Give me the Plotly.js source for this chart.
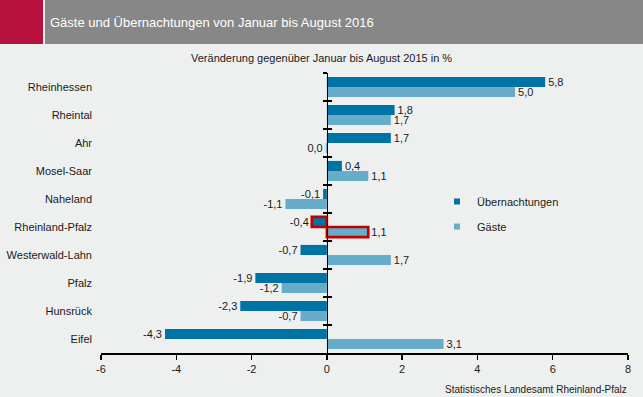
<!DOCTYPE html>
<html>
<head>
<meta charset="utf-8">
<script src="https://cdn.plot.ly/plotly-3.0.1.min.js"></script>
<style>
html,body{margin:0;padding:0;background:#eef0ef;}
#chart{width:643px;height:397px;}
</style>
</head>
<body>
<div id="chart"></div>
<script>
var categories = ["Rheinhessen", "Rheintal", "Ahr", "Mosel-Saar", "Naheland", "Rheinland-Pfalz", "Westerwald-Lahn", "Pfalz", "Hunsrück", "Eifel"];
var uebernachtungen = [5.8, 1.8, 1.7, 0.4, -0.1, -0.4, -0.7, -1.9, -2.3, -4.3];
var gaeste = [5.0, 1.7, -0.03, 1.1, -1.1, 1.1, 1.7, -1.2, -0.7, 3.1];
var xTicks = [-6, -4, -2, 0, 2, 4, 6, 8];
var highlight = "Rheinland-Pfalz";

var colDark = "#0073a5", colLight = "#67acc9", colRed = "#c00000";

function fmt(v){ var s = (Math.abs(v) < 0.05 ? 0 : v).toFixed(1); return s.replace(".", ","); }
var lineW = categories.map(function(c){ return c === highlight ? 2.6 : 0; });

var FONT = "Liberation Sans, Arial, sans-serif";

// pixel helpers (plot area: x 101..628, y 73..353)
function px(x){ return (x - 101) / 527; }
function py(y){ return (353 - y) / 280; }

var catRange = [categories.length - 0.5, -0.5];

var barCommon = {
  type: "bar", orientation: "h", y: categories,
  textposition: "outside", cliponaxis: false, constraintext: "none",
  outsidetextfont: {family: FONT, size: 11, color: "#1a1a1a"},
  showlegend: false, hoverinfo: "x+y"
};

var traces = [
  Object.assign({}, barCommon, {
    name: "Übernachtungen", x: uebernachtungen, text: uebernachtungen.map(fmt),
    marker: {color: colDark, line: {color: colRed, width: lineW}}
  }),
  Object.assign({}, barCommon, {
    name: "Gäste", x: gaeste, text: gaeste.map(fmt),
    marker: {color: colLight, line: {color: colRed, width: lineW}}
  }),
  {type: "scatter", mode: "markers", x: [null], y: [categories[0]], name: "Übernachtungen",
   marker: {symbol: "square", size: 6, color: colDark}, legendgroup: "a", hoverinfo: "skip"},
  {type: "scatter", mode: "markers", x: [null], y: [categories[0]], name: "Gäste",
   marker: {symbol: "square", size: 6, color: colLight}, legendgroup: "b", hoverinfo: "skip"},
  {type: "scatter", mode: "none", x: categories.map(function(){return null;}), y: categories,
   yaxis: "y2", showlegend: false, hoverinfo: "skip"},
  {type: "scatter", mode: "none", x: categories.map(function(){return null;}), y: categories,
   yaxis: "y3", showlegend: false, hoverinfo: "skip"}
];

var zeroAxis = {
  type: "category", categoryarray: categories, categoryorder: "array",
  range: catRange, autorange: false, overlaying: "y", anchor: "free", position: 6/14,
  showline: true, linecolor: "#000", linewidth: 1.5,
  ticklen: 4, tickwidth: 1.5, tickcolor: "#000", tickson: "boundaries",
  showticklabels: false, showgrid: false, zeroline: false
};

var layout = {
  width: 643, height: 397,
  margin: {l: 101, r: 15, t: 73, b: 44},
  paper_bgcolor: "#eef0ef", plot_bgcolor: "#eef0ef",
  font: {family: FONT, size: 11, color: "#1a1a1a"},
  barmode: "group", bargap: 0.28, bargroupgap: 0,
  title: {
    text: "Gäste und Übernachtungen von Januar bis August 2016",
    font: {family: FONT, size: 13, color: "#ffffff"},
    xref: "container", yref: "container", x: 50/643, xanchor: "left",
    y: 1 - 22/397, yanchor: "middle"
  },
  xaxis: {
    range: [-6, 8], tickvals: xTicks, ticktext: xTicks.map(String),
    showline: true, linecolor: "#000", linewidth: 2,
    ticks: "outside", ticklen: 5, tickwidth: 1.5, tickcolor: "#000",
    showgrid: false, zeroline: false,
    tickfont: {family: FONT, size: 11, color: "#1a1a1a"}
  },
  yaxis: {
    type: "category", categoryarray: categories, categoryorder: "array",
    range: catRange, autorange: false,
    showline: false, ticks: "", showgrid: false, zeroline: false,
    ticklabelstandoff: 8,
    tickfont: {family: FONT, size: 11, color: "#1a1a1a"}
  },
  yaxis2: Object.assign({}, zeroAxis, {ticks: "outside"}),
  yaxis3: Object.assign({}, zeroAxis, {ticks: "inside"}),
  legend: {
    x: px(437), y: py(187), xanchor: "left", yanchor: "top",
    bgcolor: "rgba(0,0,0,0)", tracegroupgap: 6,
    font: {family: FONT, size: 11, color: "#1a1a1a"}
  },
  shapes: [
    {type: "rect", xref: "paper", yref: "paper", x0: px(0), x1: px(43), y0: py(44), y1: py(0),
     fillcolor: "#b7123f", line: {width: 0}, layer: "below"},
    {type: "rect", xref: "paper", yref: "paper", x0: px(45), x1: px(643), y0: py(44), y1: py(0),
     fillcolor: "#878787", line: {width: 0}, layer: "below"}
  ],
  annotations: [
    {text: "Veränderung gegenüber Januar bis August 2015 in %", xref: "paper", yref: "paper",
     x: px(321), y: py(58), xanchor: "center", yanchor: "middle", showarrow: false,
     font: {family: FONT, size: 11, color: "#1a1a1a"}},
    {text: "Statistisches Landesamt Rheinland-Pfalz", xref: "paper", yref: "paper",
     x: px(629), y: py(389), xanchor: "right", yanchor: "middle", showarrow: false,
     font: {family: FONT, size: 10, color: "#1a1a1a"}}
  ]
};

Plotly.newPlot("chart", traces, layout, {displayModeBar: false, staticPlot: true});
</script>
</body>
</html>
